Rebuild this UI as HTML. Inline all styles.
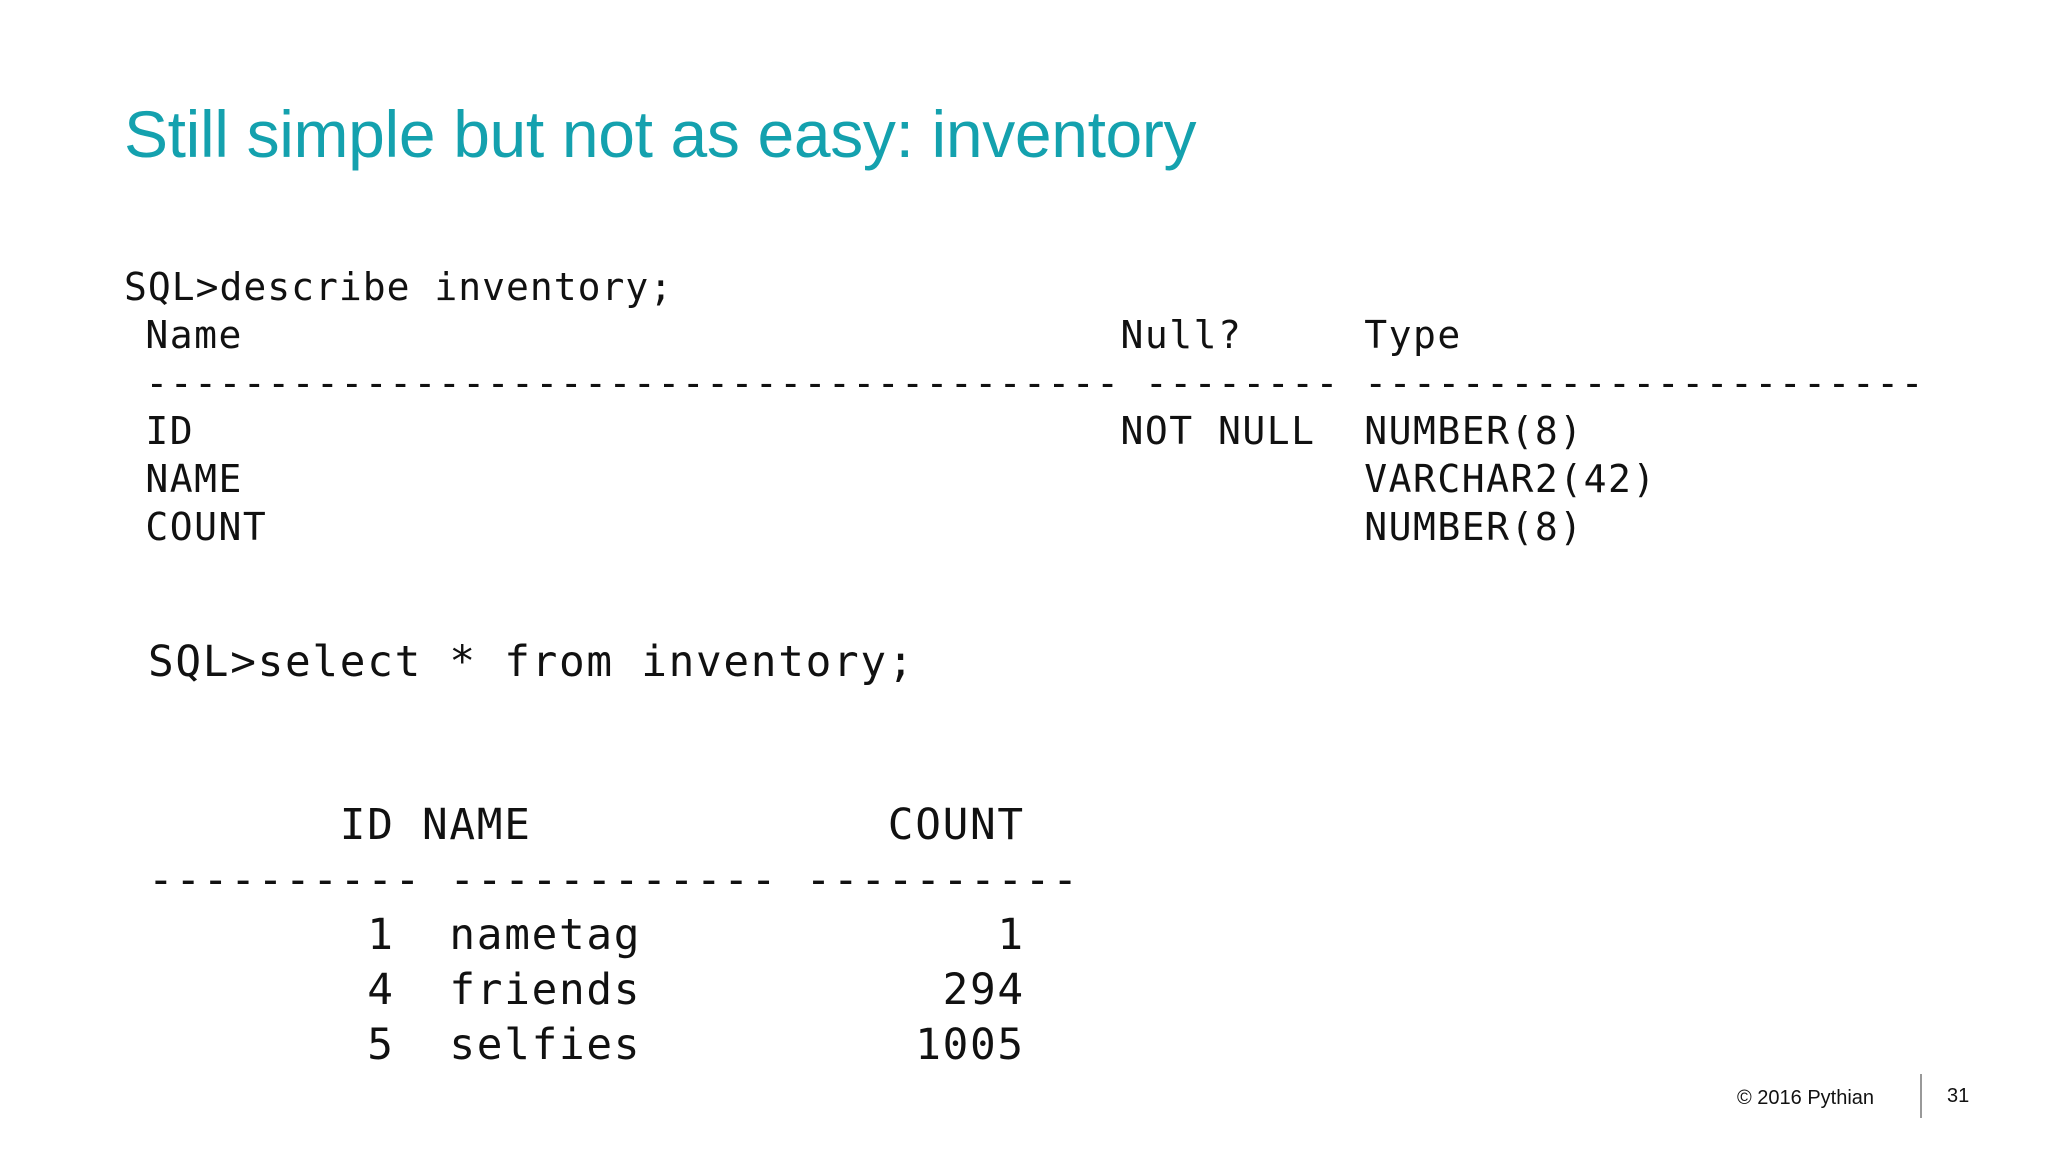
<!DOCTYPE html>
<html><head><meta charset="utf-8"><style>
html,body{margin:0;padding:0;background:#fff;}
body{width:2048px;height:1152px;position:relative;overflow:hidden;}
.t{position:absolute;left:124px;top:101px;font-family:"Liberation Sans",sans-serif;font-size:66px;line-height:67px;color:#14a1ae;white-space:nowrap;letter-spacing:-0.35px;}
pre{margin:0;position:absolute;font-family:"DejaVu Sans Mono",monospace;color:#111;white-space:pre;}
.s{font-size:38px;letter-spacing:1.5px;line-height:48px;}
.b{font-size:42.7px;letter-spacing:1.7px;line-height:55px;}
.f{position:absolute;font-family:"Liberation Sans",sans-serif;font-size:20px;color:#111;line-height:20px;}
</style></head><body>
<div class="t">Still simple but not as easy: inventory</div>
<pre class="s" style="left:124px;top:263px;letter-spacing:1px;">SQL&gt;describe inventory;</pre>
<pre class="s" style="left:121px;top:311px;"> Name                                    Null?     Type
 ---------------------------------------- -------- -----------------------
 ID                                      NOT NULL  NUMBER(8)
 NAME                                              VARCHAR2(42)
 COUNT                                             NUMBER(8)</pre>
<pre class="b" style="left:148px;top:635px;">SQL&gt;select * from inventory;</pre>
<pre class="b" style="left:148px;top:798px;">       ID NAME             COUNT
---------- ------------ ----------
        1  nametag             1
        4  friends           294
        5  selfies          1005</pre>
<div class="f" style="left:1737px;top:1088px;">© 2016 Pythian</div>
<div style="position:absolute;left:1920px;top:1074px;width:2px;height:44px;background:#999;"></div>
<div class="f" style="left:1947px;top:1086px;">31</div>
</body></html>
